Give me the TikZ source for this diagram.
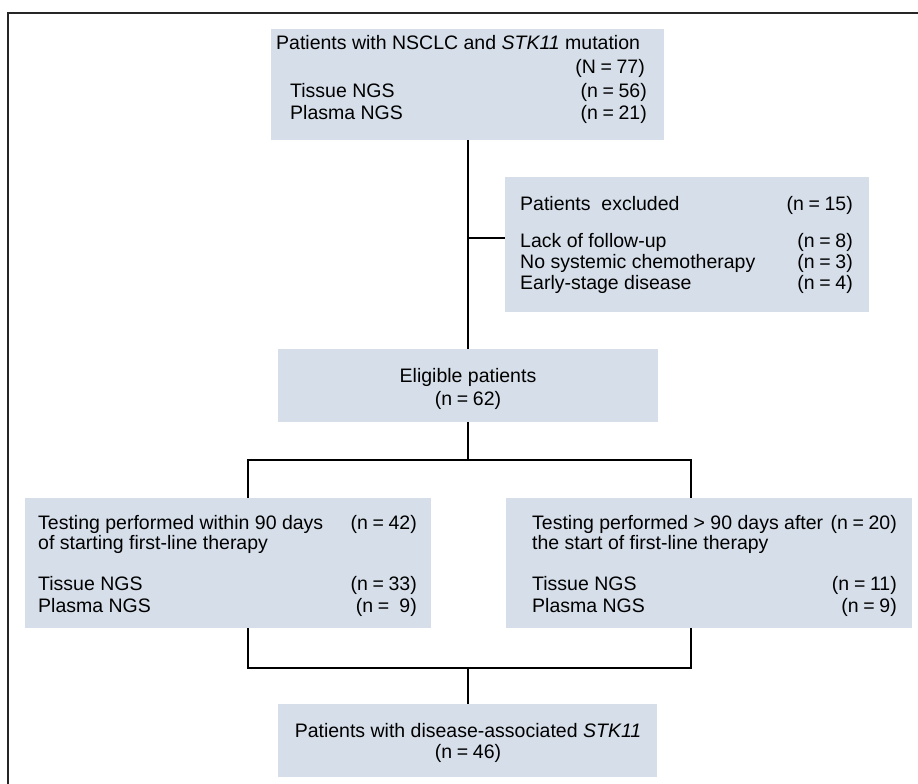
\documentclass[tikz,border=0pt]{standalone}
\usepackage{fontspec}
\setmainfont{Liberation Sans}
\newcommand{\cnt}[2]{(#1\hspace{0.24em}=\hspace{0.24em}#2)}
\begin{document}
\begin{tikzpicture}[x=1pt,y=-1pt,
  boxfill/.style={fill={rgb,255:red,213;green,222;blue,233}, draw=none, inner sep=0pt},
  conn/.style={line width=2.4pt, black},
  frame/.style={line width=1.8pt, black!85},
  txt/.style={inner sep=0pt, font=\fontsize{19.5}{23}\selectfont},
  lt/.style={txt, anchor=base west},
  rt/.style={txt, anchor=base east},
  ct/.style={txt, anchor=base}]
\useasboundingbox (0,0) rectangle (918,784);
\fill[white] (0,0) rectangle (918,784);
\draw[frame] (918,13) -- (8,13) -- (8,784);

% boxes
\node[boxfill, minimum width=393pt, minimum height=111pt] (top) at (467.5,84.5) {};
\node[boxfill, minimum width=364pt, minimum height=135pt] (excl) at (687,244.5) {};
\node[boxfill, minimum width=380pt, minimum height=73pt] (elig) at (468,385.5) {};
\node[boxfill, minimum width=406pt, minimum height=130pt] (lbox) at (228,563) {};
\node[boxfill, minimum width=406pt, minimum height=130pt] (rbox) at (709,563) {};
\node[boxfill, minimum width=379pt, minimum height=73pt] (fin) at (467.5,740.5) {};

% top box texts
\node[lt] (t1) at (276,50) {Patients with NSCLC and \textit{STK11} mutation};
\node[rt] (t2) at (645,74) {\cnt{N}{77}};
\node[lt] (t3) at (290,97) {Tissue NGS};
\node[rt] (t4) at (647,97) {\cnt{n}{56}};
\node[lt] (t5) at (290,119) {Plasma NGS};
\node[rt] (t6) at (647,119) {\cnt{n}{21}};

% excluded texts
\node[lt] (e1) at (520,210) {Patients\ \ excluded};
\node[rt] (e2) at (853,210) {\cnt{n}{15}};
\node[lt] (e3) at (520,247) {Lack of follow-up};
\node[rt] (e4) at (853,247) {\cnt{n}{8}};
\node[lt] (e5) at (520,268) {No systemic chemotherapy};
\node[rt] (e6) at (853,268) {\cnt{n}{3}};
\node[lt] (e7) at (520,289) {Early-stage disease};
\node[rt] (e8) at (853,289) {\cnt{n}{4}};

% eligible
\node[ct] (g1) at (468,382) {Eligible patients};
\node[ct] (g2) at (468,405) {\cnt{n}{62}};

% left box
\node[lt] (l1) at (38,529) {Testing performed within 90 days};
\node[rt] (l2) at (417,529) {\cnt{n}{42}};
\node[lt] (l3) at (38,549) {of starting first-line therapy};
\node[lt] (l4) at (38,590) {Tissue NGS};
\node[rt] (l5) at (417,590) {\cnt{n}{33}};
\node[lt] (l6) at (38,612) {Plasma NGS};
\node[rt] (l7) at (417,612) {\cnt{n}{\hspace{0.278em}9}};

% right box
\node[lt] (r1) at (532,529) {Testing performed > 90 days after};
\node[rt] (r2) at (897,529) {\cnt{n}{20}};
\node[lt] (r3) at (532,549) {the start of first-line therapy};
\node[lt] (r4) at (532,590) {Tissue NGS};
\node[rt] (r5) at (897,590) {\cnt{n}{11}};
\node[lt] (r6) at (532,612) {Plasma NGS};
\node[rt] (r7) at (897,612) {\cnt{n}{9}};

% final
\node[ct] (f1) at (468,737) {Patients with disease-associated \textit{STK11}};
\node[ct] (f2) at (468,758) {\cnt{n}{46}};

% connectors
\coordinate (br) at (468,238);
\coordinate (sp) at (468,460);
\coordinate (jl) at (248,460);
\coordinate (jr) at (691,460);
\coordinate (ml) at (248,668);
\coordinate (mr) at (691,668);
\coordinate (mc) at (468,668);

\draw[conn] (top.south -| br) -- (br |- elig.north);
\draw[conn] (br) -- (br -| excl.west);
\draw[conn] (sp |- elig.south) -- (sp);
\draw[conn, line join=miter] (jl |- lbox.north) -- (jl) -- (jr) -- (jr |- rbox.north);
\draw[conn, line join=miter] (ml |- lbox.south) -- (ml) -- (mr) -- (mr |- rbox.south);
\draw[conn] (mc) -- (mc |- fin.north);
\end{tikzpicture}
\end{document}
